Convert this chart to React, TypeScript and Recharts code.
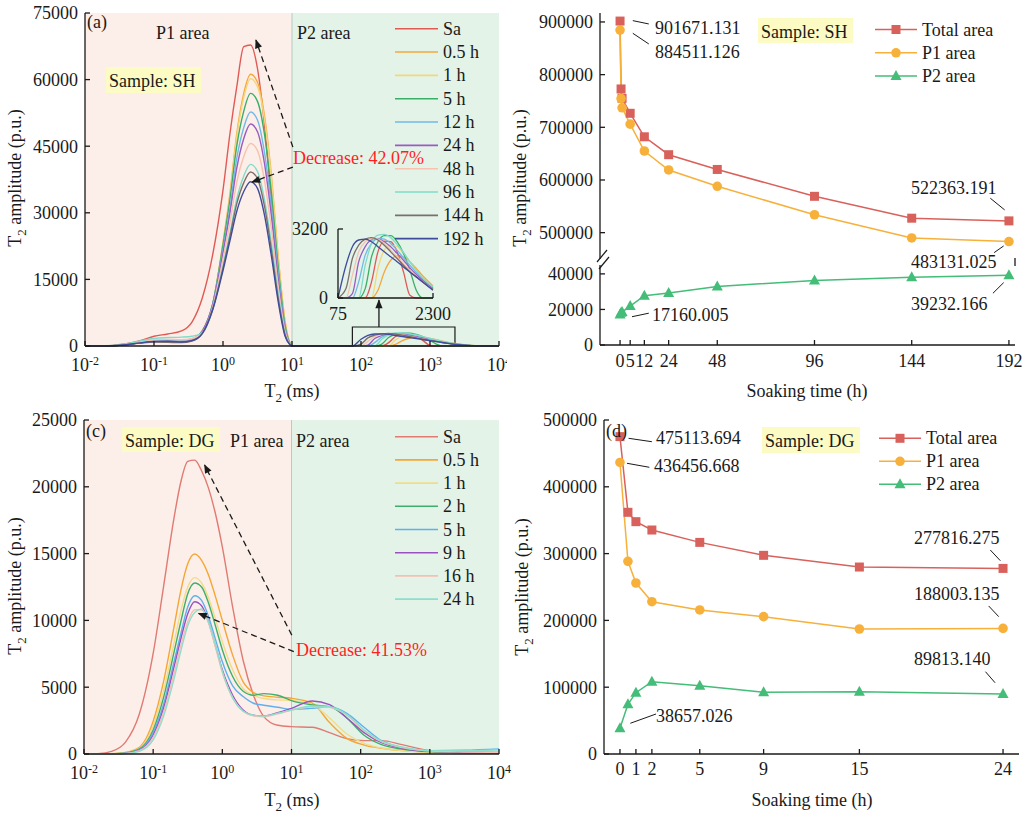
import { LineChart, Line, XAxis, YAxis, ReferenceArea, ReferenceLine } from 'recharts';

const FONT = '"Liberation Serif", "Times New Roman", serif';
const INK = '#1a1a1a';
const PINK = '#fcefe9';
const MINT = '#e3f3e8';
const NOTE = '#fdfbc4';
const RED_TEXT = '#ff1f1f';

// ---------- (a) sample SH, T2 spectra (ms / p.u.) ----------
const shT2 = [0.01, 0.0158, 0.0251, 0.0398, 0.0631, 0.1, 0.158, 0.251, 0.355, 0.501, 0.708, 1, 1.26, 1.58, 2, 2.51, 3.16, 3.98, 5.01, 6.31, 7.94, 9.33, 10, 31.6, 75, 100, 126, 158, 200, 251, 316, 398, 501, 631, 794, 1000, 1259, 1585, 2300, 3548, 5623, 10000];
const shSa = [0, 20, 150, 500, 1200, 2200, 2700, 3400, 5400, 10800, 20500, 35100, 47800, 58300, 67400, 67800, 62500, 50000, 33000, 16000, 4000, 400, 0, 0, 0, 0, 0, 0, 0, 745, 2140, 2640, 2610, 2140, 1210, 124, 0, 0, 0, 0, 0, 0];
const sh05 = [0, 0, 60, 300, 750, 1100, 1250, 1150, 1500, 3400, 9200, 23300, 34300, 47700, 56900, 61200, 59400, 52000, 38600, 20200, 5500, 700, 0, 0, 0, 0, 0, 0, 0, 0, 357, 1210, 1750, 1960, 1910, 1680, 1370, 1030, 560, 170, 0, 0];
const sh1 = [0, 0, 60, 300, 750, 1100, 1250, 1150, 1450, 3300, 9000, 22900, 33700, 47000, 56000, 60200, 58400, 51200, 37900, 19900, 5400, 700, 0, 0, 0, 0, 0, 0, 0, 0, 1370, 2220, 2450, 2380, 2070, 1680, 1290, 930, 510, 160, 0, 0];
const sh5 = [0, 0, 70, 320, 800, 1150, 1300, 1200, 1600, 3400, 9500, 22800, 33000, 45000, 52900, 56900, 55100, 47800, 34700, 17900, 4700, 600, 0, 0, 0, 0, 0, 0, 435, 1910, 2610, 2890, 2890, 2610, 2070, 1290, 357, 0, 0, 0, 0, 0];
const sh12 = [0, 0, 70, 330, 820, 1200, 1350, 1250, 1600, 3300, 9400, 21600, 31100, 42200, 49200, 52700, 50900, 43700, 31600, 16300, 4100, 500, 0, 0, 0, 0, 0, 745, 1990, 2530, 2760, 2730, 2530, 2220, 1860, 1520, 1180, 870, 465, 150, 0, 0];
const sh24 = [0, 0, 60, 300, 750, 1050, 1100, 950, 1300, 3250, 9250, 21000, 30000, 40000, 46750, 50000, 48250, 41250, 29500, 15000, 3750, 500, 0, 0, 0, 0, 200, 1680, 2380, 2690, 2730, 2610, 2380, 2070, 1750, 1400, 1090, 820, 435, 140, 0, 0];
const sh48 = [0, 0, 80, 380, 900, 1350, 1500, 1400, 1700, 3050, 8750, 19600, 27800, 36800, 42700, 45600, 44000, 37400, 26500, 13400, 3300, 450, 0, 0, 0, 0, 1050, 2140, 2610, 2760, 2730, 2530, 2220, 1910, 1600, 1290, 1010, 745, 400, 130, 0, 0];
const sh96 = [0, 0, 100, 450, 1150, 1700, 1900, 2000, 2200, 2900, 8200, 18000, 25400, 33100, 38300, 40900, 39300, 33100, 23300, 11700, 2700, 350, 0, 0, 0, 0, 0, 0, 1520, 2530, 2920, 2950, 2800, 2480, 2110, 1680, 1290, 930, 510, 160, 0, 0];
const sh144 = [0, 0, 60, 280, 650, 900, 850, 750, 1100, 2850, 8350, 17600, 24700, 32000, 36800, 39200, 37700, 31600, 21900, 10800, 2500, 330, 0, 0, 0, 435, 1830, 2450, 2730, 2800, 2690, 2450, 2140, 1830, 1520, 1210, 980, 745, 400, 130, 0, 0];
const sh192 = [0, 0, 60, 300, 700, 1000, 1050, 900, 1200, 2800, 8100, 17000, 23700, 30300, 34800, 37000, 35500, 29600, 20400, 10000, 2200, 300, 0, 0, 0, 1520, 2380, 2690, 2730, 2610, 2380, 2140, 1910, 1680, 1440, 1210, 980, 745, 357, 120, 0, 0];

// ---------- (c) sample DG, T2 spectra ----------
const dgT2 = [0.01, 0.0158, 0.0251, 0.0398, 0.0631, 0.1, 0.141, 0.2, 0.251, 0.316, 0.398, 0.501, 0.631, 0.794, 1, 1.41, 2, 2.82, 3.98, 6.31, 10, 20, 35.5, 63.1, 112, 200, 398, 1000, 3162, 10000];
const dgSa = [0, 30, 200, 890, 2990, 7530, 12490, 17660, 20360, 21900, 22000, 21200, 19900, 18000, 15500, 11000, 7000, 4400, 2800, 2150, 2050, 2000, 1600, 1150, 1000, 1000, 700, 250, 80, 50];
const dg05 = [0, 0, 20, 120, 500, 2450, 5400, 9500, 12230, 14240, 14970, 14500, 13400, 11800, 10000, 7400, 5400, 4600, 4350, 4250, 4170, 3800, 2350, 1170, 670, 430, 260, 150, 80, 60];
const dg1 = [0, 0, 15, 100, 430, 2100, 4700, 8300, 10700, 12500, 13200, 12800, 11700, 10100, 8400, 6300, 4900, 4400, 4150, 4050, 4000, 3700, 2700, 1500, 800, 450, 260, 150, 80, 60];
const dg2 = [0, 0, 10, 80, 380, 1800, 4200, 7600, 9900, 12000, 12800, 12500, 11300, 9600, 7800, 5800, 4700, 4400, 4520, 4400, 3990, 3670, 3550, 2700, 1400, 700, 370, 175, 90, 60];
const dg5 = [0, 0, 10, 60, 320, 1600, 3700, 6900, 9000, 11000, 11850, 11500, 10300, 8600, 6900, 5100, 4300, 3800, 3650, 3500, 3340, 3420, 3540, 3040, 2000, 1000, 480, 250, 280, 380];
const dg9 = [0, 0, 5, 50, 280, 1400, 3400, 6500, 8600, 10500, 11400, 11100, 9900, 8100, 6300, 4400, 3300, 2900, 2840, 3100, 3420, 3970, 3700, 2700, 1600, 850, 430, 200, 150, 120];
const dg16 = [0, 0, 5, 40, 250, 1250, 3100, 6000, 8100, 9900, 10800, 10800, 9800, 8000, 6100, 4200, 3200, 2850, 2790, 3000, 3290, 3540, 3490, 2900, 1750, 920, 480, 225, 150, 120];
const dg24 = [0, 0, 3, 30, 200, 1050, 2800, 5600, 7700, 9600, 10600, 10850, 9900, 8200, 6200, 4200, 3200, 2900, 2840, 3050, 3290, 3590, 3540, 2950, 1800, 970, 520, 250, 250, 300];

// ---------- (b) SH areas vs soaking time ----------
const shTime = [0, 0.5, 1, 5, 12, 24, 48, 96, 144, 192];
const shTotal = [901671.131, 772800, 755000, 726600, 682000, 648000, 620000, 569000, 527500, 522363.191];
const shP1 = [884511.126, 754600, 737000, 706000, 655000, 619000, 588000, 534000, 490000, 483131.025];
const shP2 = [17160.005, 18200, 18500, 21900, 27700, 29200, 32900, 36300, 38100, 39232.166];

// ---------- (d) DG areas vs soaking time ----------
const dgTime = [0, 0.5, 1, 2, 5, 9, 15, 24];
const dgTotal = [475113.694, 361800, 347800, 335300, 316800, 297400, 279900, 277816.275];
const dgP1 = [436456.668, 288400, 256000, 228000, 215600, 205600, 187100, 188003.135];
const dgP2 = [38657.026, 74300, 91800, 108200, 102300, 92300, 93300, 89813.14];

// tick labels
const decades = [0.01, 0.1, 1, 10, 100, 1000, 10000];
const shSpecTicks = [0, 15000, 30000, 45000, 60000, 75000];
const dgSpecTicks = [0, 5000, 10000, 15000, 20000, 25000];
const shHourTicks = [0, 5, 12, 24, 48, 96, 144, 192];
const dgHourTicks = [0, 1, 2, 5, 9, 15, 24];
const shUpperTicks = [500000, 600000, 700000, 800000, 900000];
const shLowerTicks = [0, 20000, 40000];
const dgAreaTicks = [0, 100000, 200000, 300000, 400000, 500000];

// annotation leader lines / arrows, in data units
const shArrows = [
  [{ x: 10.3, y: 44800 }, { x: 3.0, y: 68900 }],
  [{ x: 10.3, y: 40300 }, { x: 2.63, y: 36900 }],
];
const shInsetArrow = [{ x: 182, y: 4280 }, { x: 182, y: 10350 }];
const dgArrows = [
  [{ x: 10.1, y: 8900 }, { x: 0.554, y: 21630 }],
  [{ x: 10.8, y: 7660 }, { x: 0.454, y: 10530 }],
];
const shUpperLeaders = [
  [{ x: 6.3, y: 902500 }, { x: 14.2, y: 896200 }],
  [{ x: 6.3, y: 878500 }, { x: 14.2, y: 858200 }],
  [{ x: 182.8, y: 565400 }, { x: 189.9, y: 543200 }],
  [{ x: 184.7, y: 462100 }, { x: 189.4, y: 474800 }],
];
const shLowerLeaders = [
  [{ x: 184.1, y: 29100 }, { x: 189.4, y: 35100 }],
  [{ x: 5.9, y: 15900 }, { x: 14.2, y: 17900 }],
];
const dgLeaders = [
  [{ x: 0.54, y: 472600 }, { x: 2.0, y: 467500 }],
  [{ x: 0.44, y: 435200 }, { x: 1.84, y: 429200 }],
  [{ x: 23.2, y: 305400 }, { x: 23.83, y: 289400 }],
  [{ x: 23.1, y: 221600 }, { x: 23.73, y: 205600 }],
  [{ x: 22.9, y: 123200 }, { x: 23.5, y: 106700 }],
  [{ x: 0.65, y: 46000 }, { x: 2.26, y: 59900 }],
];

type Series = { key: string; label: string; color: string; values: number[] };

const shSeries: Series[] = [
  { key: 'sa', label: 'Sa', color: '#e05a55', values: shSa },
  { key: 'h05', label: '0.5 h', color: '#f5a73c', values: sh05 },
  { key: 'h1', label: '1 h', color: '#f3d77a', values: sh1 },
  { key: 'h5', label: '5 h', color: '#3aae66', values: sh5 },
  { key: 'h12', label: '12 h', color: '#72b9e8', values: sh12 },
  { key: 'h24', label: '24 h', color: '#9a5cc0', values: sh24 },
  { key: 'h48', label: '48 h', color: '#f7c2b0', values: sh48 },
  { key: 'h96', label: '96 h', color: '#7fdcc8', values: sh96 },
  { key: 'h144', label: '144 h', color: '#7b6f6b', values: sh144 },
  { key: 'h192', label: '192 h', color: '#3f4b9c', values: sh192 },
];

const dgSeries: Series[] = [
  { key: 'sa', label: 'Sa', color: '#e07a72', values: dgSa },
  { key: 'h05', label: '0.5 h', color: '#f6a634', values: dg05 },
  { key: 'h1', label: '1 h', color: '#f2dc88', values: dg1 },
  { key: 'h2', label: '2 h', color: '#3fae6c', values: dg2 },
  { key: 'h5', label: '5 h', color: '#5fb0ee', values: dg5 },
  { key: 'h9', label: '9 h', color: '#9a52c2', values: dg9 },
  { key: 'h16', label: '16 h', color: '#f6bfb5', values: dg16 },
  { key: 'h24', label: '24 h', color: '#8ddfcc', values: dg24 },
];

const areaKeys = [
  { key: 'total', label: 'Total area', color: '#d9615b', mark: 'square' },
  { key: 'p1', label: 'P1 area', color: '#f7b13a', mark: 'circle' },
  { key: 'p2', label: 'P2 area', color: '#43bd77', mark: 'triangle' },
];

function toRows(t: number[], series: Series[]) {
  return t.map((v, i) => {
    const row: Record<string, number> = { t: v };
    for (const s of series) row[s.key] = s.values[i];
    return row;
  });
}

const shRows = toRows(shT2, shSeries);
const shInsetRows = shRows.filter((r) => r.t >= 75 && r.t <= 2300);
const dgRows = toRows(dgT2, dgSeries);
const shAreaRows = shTime.map((h, i) => ({ h, total: shTotal[i], p1: shP1[i], p2: shP2[i] }));
const dgAreaRows = dgTime.map((h, i) => ({ h, total: dgTotal[i], p1: dgP1[i], p2: dgP2[i] }));

const axisStroke = { stroke: INK, strokeWidth: 1.3 };
const tickFont = { fill: INK, fontSize: 18 };

function PowTick(props: any) {
  const { x, y, payload } = props;
  const exp = Math.round(Math.log10(payload.value));
  return (
    <text x={x} y={y + 25} textAnchor="middle" fill={INK} fontSize={18}>
      10<tspan dy={-6} fontSize={12}>{exp}</tspan>
    </text>
  );
}

function arrowShape(p: any) {
  return (
    <line
      x1={p.x1}
      y1={p.y1}
      x2={p.x2}
      y2={p.y2}
      stroke={INK}
      strokeWidth={1.3}
      strokeDasharray={p.strokeDasharray}
      markerEnd="url(#arrowHead)"
    />
  );
}

function markShape(mark: string, cx: number, cy: number, color: string, key?: string) {
  if (mark === 'square') return <rect key={key} x={cx - 4.5} y={cy - 4.5} width={9} height={9} fill={color} />;
  if (mark === 'triangle')
    return <path key={key} d={`M${cx},${cy - 6} L${cx + 5.5},${cy + 4} L${cx - 5.5},${cy + 4} Z`} fill={color} />;
  return <circle key={key} cx={cx} cy={cy} r={4.8} fill={color} />;
}

function areaLine(k: (typeof areaKeys)[number]) {
  return (
    <Line
      key={k.key}
      dataKey={k.key}
      type="linear"
      stroke={k.color}
      strokeWidth={1.5}
      dot={(p: any) => markShape(k.mark, p.cx, p.cy, k.color, `${k.key}-${p.index}`)}
      activeDot={false}
      isAnimationActive={false}
    />
  );
}

function SpectrumChart({
  rows,
  series,
  width,
  height,
  top,
  yMax,
  yTicks,
  yWidth,
  xHeight,
  arrows,
  children,
}: {
  rows: Record<string, number>[];
  series: Series[];
  width: number;
  height: number;
  top: number;
  yMax: number;
  yTicks: number[];
  yWidth: number;
  xHeight: number;
  arrows: { x: number; y: number }[][];
  children?: any;
}) {
  return (
    <LineChart width={width} height={height} data={rows} margin={{ top, right: 13, bottom: 0, left: 0 }}>
      <ReferenceArea x1={0.01} x2={10} y1={0} y2={yMax} fill={PINK} fillOpacity={1} stroke="none" />
      <ReferenceArea x1={10} x2={10000} y1={0} y2={yMax} fill={MINT} fillOpacity={1} stroke="none" />
      <ReferenceLine x={10} stroke="#b7cbbf" strokeWidth={1} />
      {children}
      <XAxis
        dataKey="t"
        type="number"
        scale="log"
        domain={[0.01, 10000]}
        ticks={decades}
        interval={0}
        tick={<PowTick />}
        tickSize={-5}
        tickMargin={5}
        height={xHeight}
        axisLine={axisStroke}
        tickLine={axisStroke}
      />
      <XAxis xAxisId="top" orientation="top" dataKey="t" type="number" scale="log" domain={[0.01, 10000]} height={0} tick={false} tickLine={false} axisLine={axisStroke} />
      <YAxis domain={[0, yMax]} ticks={yTicks} interval={0} width={yWidth} tick={tickFont} tickSize={-5} tickMargin={12} axisLine={axisStroke} tickLine={axisStroke} />
      <YAxis yAxisId="right" orientation="right" domain={[0, yMax]} width={0} tick={false} tickLine={false} axisLine={axisStroke} />
      {series.map((s) => (
        <Line key={s.key} dataKey={s.key} name={s.label} type="monotone" stroke={s.color} strokeWidth={1.4} dot={false} activeDot={false} isAnimationActive={false} />
      ))}
      {arrows.map((seg, i) => (
        <ReferenceLine key={`arrow-${i}`} segment={seg} stroke={INK} strokeDasharray="6 4" shape={arrowShape} ifOverflow="visible" />
      ))}
    </LineChart>
  );
}

function ShInset() {
  return (
    <LineChart width={175} height={109} data={shInsetRows} margin={{ top: 10, right: 32, bottom: 0, left: 0 }}>
      <XAxis
        dataKey="t"
        type="number"
        scale="log"
        domain={[75, 2300]}
        ticks={[75, 2300]}
        interval={0}
        tick={tickFont}
        tickSize={-5}
        tickMargin={14}
        height={30}
        axisLine={axisStroke}
        tickLine={axisStroke}
      />
      <YAxis domain={[0, 3200]} ticks={[0, 3200]} interval={0} width={48} tick={tickFont} tickSize={-5} tickMargin={15} axisLine={axisStroke} tickLine={axisStroke} />
      {shSeries.map((s) => (
        <Line key={s.key} dataKey={s.key} type="monotone" stroke={s.color} strokeWidth={1.3} dot={false} activeDot={false} isAnimationActive={false} />
      ))}
    </LineChart>
  );
}

function leaderLines(list: { x: number; y: number }[][], prefix: string) {
  return list.map((seg, i) => (
    <ReferenceLine key={`${prefix}-${i}`} segment={seg} stroke={INK} strokeWidth={1} ifOverflow="visible" />
  ));
}

function ShAreaUpper() {
  return (
    <LineChart width={512} height={259} data={shAreaRows} margin={{ top: 13, right: 9, bottom: 0, left: 0 }}>
      <XAxis dataKey="h" type="number" domain={[-9.9, 195]} hide />
      <XAxis xAxisId="top" orientation="top" dataKey="h" type="number" domain={[-9.9, 195]} height={0} tick={false} tickLine={false} axisLine={axisStroke} />
      <YAxis domain={[450000, 917000]} ticks={shUpperTicks} interval={0} width={88} tick={tickFont} tickSize={-5} tickMargin={12} axisLine={axisStroke} tickLine={axisStroke} />
      <YAxis yAxisId="right" orientation="right" domain={[450000, 917000]} width={0} tick={false} tickLine={false} axisLine={axisStroke} />
      {areaLine(areaKeys[0])}
      {areaLine(areaKeys[1])}
      {leaderLines(shUpperLeaders, 'up')}
    </LineChart>
  );
}

function ShAreaLower() {
  return (
    <LineChart width={512} height={151} data={shAreaRows} margin={{ top: 6, right: 9, bottom: 0, left: 0 }}>
      <XAxis dataKey="h" type="number" domain={[-9.9, 195]} ticks={shHourTicks} interval={0} height={65} tick={tickFont} tickSize={-5} tickMargin={14} axisLine={axisStroke} tickLine={axisStroke} />
      <YAxis domain={[0, 45000]} ticks={shLowerTicks} interval={0} width={88} tick={tickFont} tickSize={-5} tickMargin={12} axisLine={axisStroke} tickLine={axisStroke} />
      <YAxis yAxisId="right" orientation="right" domain={[0, 45000]} width={0} tick={false} tickLine={false} axisLine={axisStroke} />
      {areaLine(areaKeys[2])}
      {leaderLines(shLowerLeaders, 'low')}
    </LineChart>
  );
}

function DgArea() {
  return (
    <LineChart width={512} height={407} data={dgAreaRows} margin={{ top: 10, right: 5, bottom: 0, left: 0 }}>
      <XAxis dataKey="h" type="number" domain={[-1, 25]} ticks={dgHourTicks} interval={0} height={63} tick={tickFont} tickSize={-5} tickMargin={13} axisLine={axisStroke} tickLine={axisStroke} />
      <XAxis xAxisId="top" orientation="top" dataKey="h" type="number" domain={[-1, 25]} height={0} tick={false} tickLine={false} axisLine={axisStroke} />
      <YAxis domain={[0, 500000]} ticks={dgAreaTicks} interval={0} width={92} tick={tickFont} tickSize={-5} tickMargin={12} axisLine={axisStroke} tickLine={axisStroke} />
      <YAxis yAxisId="right" orientation="right" domain={[0, 500000]} width={0} tick={false} tickLine={false} axisLine={axisStroke} />
      {areaKeys.map((k) => areaLine(k))}
      {leaderLines(dgLeaders, 'dg')}
    </LineChart>
  );
}

function T2Label({ x, y }: { x: number; y: number }) {
  return (
    <text x={x} y={y} textAnchor="middle">
      T<tspan dy={5} fontSize={13}>2</tspan>
      <tspan dy={-5}> (ms)</tspan>
    </text>
  );
}

function AmpLabel({ x, cy }: { x: number; cy: number }) {
  return (
    <text x={x} y={cy} textAnchor="middle" transform={`rotate(-90 ${x} ${cy})`}>
      T<tspan dy={5} fontSize={13}>2</tspan>
      <tspan dy={-5}> amplitude (p.u.)</tspan>
    </text>
  );
}

function NoteBox({ x, y, w, h, text }: { x: number; y: number; w: number; h: number; text: string }) {
  return (
    <g>
      <rect x={x} y={y} width={w} height={h} fill={NOTE} />
      <text x={x + 3} y={y + 19.5}>{text}</text>
    </g>
  );
}

function LineKey({ x, y, step, items }: { x: number; y: number; step: number; items: Series[] }) {
  return (
    <g>
      {items.map((s, i) => (
        <g key={s.key}>
          <line x1={x} x2={x + 43} y1={y + i * step} y2={y + i * step} stroke={s.color} strokeWidth={1.6} />
          <text x={x + 48} y={y + i * step + 6}>{s.label}</text>
        </g>
      ))}
    </g>
  );
}

function MarkKey({ x, y, step }: { x: number; y: number; step: number }) {
  return (
    <g>
      {areaKeys.map((k, i) => (
        <g key={k.key}>
          <line x1={x} x2={x + 42} y1={y + i * step} y2={y + i * step} stroke={k.color} strokeWidth={1.5} />
          {markShape(k.mark, x + 21, y + i * step, k.color)}
          <text x={x + 47} y={y + i * step + 6}>{k.label}</text>
        </g>
      ))}
    </g>
  );
}

function Overlay() {
  return (
    <svg
      width={1024}
      height={817}
      style={{ position: 'absolute', left: 0, top: 0, pointerEvents: 'none' }}
      fontFamily={FONT}
      fontSize={18}
      fill={INK}
    >
      <defs>
        <marker id="arrowHead" viewBox="0 0 10 10" refX="9" refY="5" markerWidth="10" markerHeight="9" markerUnits="userSpaceOnUse" orient="auto">
          <path d="M0,1 L10,5 L0,9 Z" fill={INK} />
        </marker>
      </defs>

      {/* (a) */}
      <text x={87} y={28}>(a)</text>
      <text x={156} y={39}>P1 area</text>
      <text x={297} y={39}>P2 area</text>
      <NoteBox x={106} y={67} w={95} h={26} text="Sample: SH" />
      <text x={293} y={164} fill={RED_TEXT}>Decrease: 42.07%</text>
      <LineKey x={395} y={28.7} step={23.33} items={shSeries} />
      <AmpLabel x={21} cy={178} />
      <T2Label x={292} y={397} />

      {/* (b) */}
      <NoteBox x={758} y={18} w={95} h={25} text="Sample: SH" />
      <text x={655} y={34}>901671.131</text>
      <text x={655} y={58}>884511.126</text>
      <text x={911} y={194}>522363.191</text>
      <text x={911} y={268}>483131.025</text>
      <text x={911} y={310}>39232.166</text>
      <text x={652} y={321}>17160.005</text>
      <MarkKey x={875} y={29.5} step={23.3} />
      <AmpLabel x={526} cy={178} />
      <text x={807} y={397} textAnchor="middle">Soaking time (h)</text>
      <line x1={597} y1={262} x2={607} y2={250} stroke={INK} strokeWidth={1.2} />
      <line x1={599} y1={269} x2={609} y2={257} stroke={INK} strokeWidth={1.2} />
      <line x1={1015} y1={258} x2={1015} y2={266} stroke={INK} strokeWidth={1.3} />

      {/* (c) */}
      <text x={86} y={437}>(c)</text>
      <NoteBox x={122} y={427} w={98} h={25} text="Sample: DG" />
      <text x={230} y={447}>P1 area</text>
      <text x={296} y={447}>P2 area</text>
      <text x={296} y={656} fill={RED_TEXT}>Decrease: 41.53%</text>
      <LineKey x={395} y={436.7} step={23.2} items={dgSeries} />
      <AmpLabel x={21} cy={586} />
      <T2Label x={292} y={806} />

      {/* (d) */}
      <text x={606} y={437}>(d)</text>
      <NoteBox x={762} y={427} w={98} h={26} text="Sample: DG" />
      <text x={656} y={444}>475113.694</text>
      <text x={654} y={472}>436456.668</text>
      <text x={914} y={544}>277816.275</text>
      <text x={914} y={600}>188003.135</text>
      <text x={914} y={665}>89813.140</text>
      <text x={656} y={722}>38657.026</text>
      <MarkKey x={879} y={438.3} step={23} />
      <AmpLabel x={528} cy={587} />
      <text x={812} y={806} textAnchor="middle">Soaking time (h)</text>
    </svg>
  );
}

export default function App() {
  return (
    <div style={{ position: 'absolute', left: 0, top: 0, width: 1024, height: 817, background: '#fff', fontFamily: FONT, overflow: 'hidden' }}>
      <div style={{ position: 'absolute', left: 0, top: 0, width: 507, height: 410, overflow: 'hidden' }}>
        <SpectrumChart rows={shRows} series={shSeries} width={512} height={410} top={13} yMax={75000} yTicks={shSpecTicks} yWidth={85} xHeight={64} arrows={shArrows}>
          <ReferenceArea x1={75} x2={2300} y1={0} y2={4280} fill="none" stroke={INK} strokeWidth={1.2} />
          <ReferenceLine segment={shInsetArrow} stroke={INK} shape={arrowShape} ifOverflow="visible" />
        </SpectrumChart>
      </div>
      <div style={{ position: 'absolute', left: 290, top: 219 }}>
        <ShInset />
      </div>
      <div style={{ position: 'absolute', left: 512, top: 0 }}>
        <ShAreaUpper />
      </div>
      <div style={{ position: 'absolute', left: 512, top: 259 }}>
        <ShAreaLower />
      </div>
      <div style={{ position: 'absolute', left: 0, top: 410 }}>
        <SpectrumChart rows={dgRows} series={dgSeries} width={512} height={407} top={10} yMax={25000} yTicks={dgSpecTicks} yWidth={84} xHeight={63} arrows={dgArrows} />
      </div>
      <div style={{ position: 'absolute', left: 512, top: 410 }}>
        <DgArea />
      </div>
      <Overlay />
    </div>
  );
}
